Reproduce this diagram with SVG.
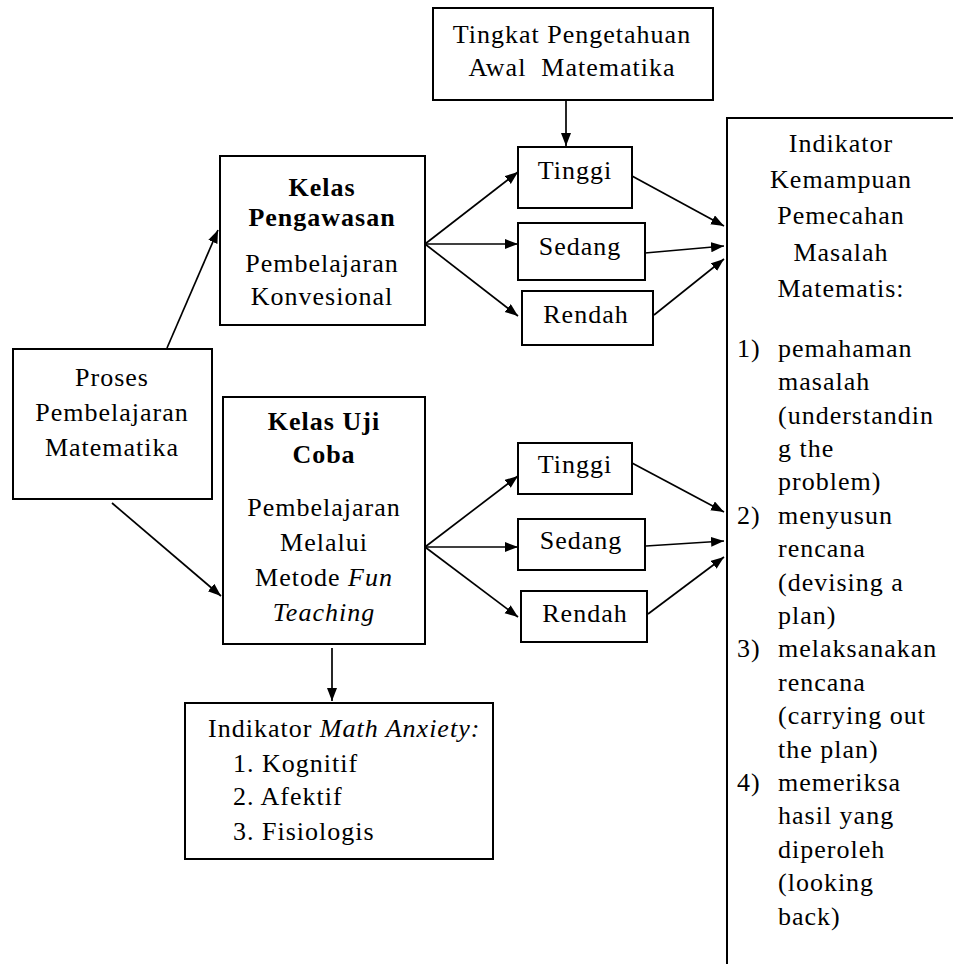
<svg xmlns="http://www.w3.org/2000/svg" width="953" height="964" viewBox="0 0 953 964">
<style>
.box{fill:#fff;stroke:#000;stroke-width:2}
.t{font-family:"Liberation Serif","Times New Roman","DejaVu Serif",serif;font-size:26px;fill:#000;letter-spacing:1px}
.c{text-anchor:middle}
.b{font-weight:bold}
.i{font-style:italic}
.ln{fill:none;stroke:#000;stroke-width:1.7;marker-end:url(#ah)}
</style>
<defs>
<marker id="ah" markerUnits="userSpaceOnUse" markerWidth="14" markerHeight="12" refX="13" refY="5" orient="auto">
<path d="M0,0 L13,5 L0,10 Z" fill="#000"/>
</marker>
</defs>
<rect width="953" height="964" fill="#fff"/>

<g id="connectors">
<line class="ln" x1="566" y1="100" x2="566" y2="146"/>
<line class="ln" x1="167" y1="348" x2="218" y2="230"/>
<line class="ln" x1="112" y1="503" x2="221" y2="596"/>
<line class="ln" x1="425" y1="244" x2="518" y2="172"/>
<line class="ln" x1="425" y1="244" x2="518" y2="244"/>
<line class="ln" x1="425" y1="244" x2="518" y2="316"/>
<line class="ln" x1="632" y1="176" x2="724" y2="226"/>
<line class="ln" x1="645" y1="253" x2="724" y2="246"/>
<line class="ln" x1="654" y1="315" x2="724" y2="259"/>
<line class="ln" x1="425" y1="547" x2="518" y2="476"/>
<line class="ln" x1="425" y1="547" x2="518" y2="547"/>
<line class="ln" x1="425" y1="547" x2="518" y2="617"/>
<line class="ln" x1="632" y1="463" x2="724" y2="512"/>
<line class="ln" x1="646" y1="546" x2="724" y2="541"/>
<line class="ln" x1="648" y1="614" x2="724" y2="557"/>
<line class="ln" x1="332" y1="648" x2="332" y2="701"/>
</g>

<g id="tingkat">
<rect class="box" x="433" y="8" width="280" height="92"/>
<text class="t c" x="572" y="43">Tingkat Pengetahuan</text>
<text class="t c" x="572" y="76" xml:space="preserve">Awal  Matematika</text>
</g>

<g id="proses">
<rect class="box" x="13" y="349" width="199" height="150"/>
<text class="t c" x="112" y="386">Proses</text>
<text class="t c" x="112" y="421">Pembelajaran</text>
<text class="t c" x="112" y="456">Matematika</text>
</g>

<g id="kelas-pengawasan">
<rect class="box" x="220" y="156" width="205" height="169"/>
<text class="t c b" x="322" y="196">Kelas</text>
<text class="t c b" x="322" y="226">Pengawasan</text>
<text class="t c" x="322" y="272">Pembelajaran</text>
<text class="t c" x="322" y="305">Konvesional</text>
</g>

<g id="kelas-uji">
<rect class="box" x="223" y="397" width="202" height="247"/>
<text class="t c b" x="324" y="430">Kelas Uji</text>
<text class="t c b" x="324" y="463">Coba</text>
<text class="t c" x="324" y="516">Pembelajaran</text>
<text class="t c" x="324" y="551">Melalui</text>
<text class="t c" x="324" y="586">Metode <tspan class="i">Fun</tspan></text>
<text class="t c i" x="324" y="621">Teaching</text>
</g>

<g id="tinggi-1">
<rect class="box" x="518" y="147" width="114" height="61"/>
<text class="t c" x="575" y="179">Tinggi</text>
</g>
<g id="sedang-1">
<rect class="box" x="518" y="223" width="127" height="57"/>
<text class="t c" x="580" y="255">Sedang</text>
</g>
<g id="rendah-1">
<rect class="box" x="522" y="291" width="131" height="54"/>
<text class="t c" x="586" y="323">Rendah</text>
</g>

<g id="tinggi-2">
<rect class="box" x="518" y="443" width="114" height="51"/>
<text class="t c" x="575" y="473">Tinggi</text>
</g>
<g id="sedang-2">
<rect class="box" x="518" y="519" width="127" height="51"/>
<text class="t c" x="581" y="549">Sedang</text>
</g>
<g id="rendah-2">
<rect class="box" x="521" y="591" width="126" height="51"/>
<text class="t c" x="585" y="622">Rendah</text>
</g>

<g id="math-anxiety">
<rect class="box" x="185" y="703" width="308" height="156"/>
<text class="t" x="208" y="737">Indikator <tspan class="i">Math Anxiety:</tspan></text>
<text class="t" x="233" y="772">1. Kognitif</text>
<text class="t" x="233" y="805">2. Afektif</text>
<text class="t" x="233" y="840">3. Fisiologis</text>
</g>

<g id="indikator-kemampuan">
<rect class="box" x="727" y="118" width="260" height="870"/>
<text class="t c" x="841" y="152">Indikator</text>
<text class="t c" x="841" y="188">Kemampuan</text>
<text class="t c" x="841" y="224">Pemecahan</text>
<text class="t c" x="841" y="261">Masalah</text>
<text class="t c" x="841" y="297">Matematis:</text>
<text class="t" x="737" y="357">1)</text>
<text class="t" x="778" y="357">pemahaman</text>
<text class="t" x="778" y="390">masalah</text>
<text class="t" x="778" y="424">(understandin</text>
<text class="t" x="778" y="457">g the</text>
<text class="t" x="778" y="490">problem)</text>
<text class="t" x="737" y="524">2)</text>
<text class="t" x="778" y="524">menyusun</text>
<text class="t" x="778" y="557">rencana</text>
<text class="t" x="778" y="591">(devising a</text>
<text class="t" x="778" y="624">plan)</text>
<text class="t" x="737" y="657">3)</text>
<text class="t" x="778" y="657">melaksanakan</text>
<text class="t" x="778" y="691">rencana</text>
<text class="t" x="778" y="724">(carrying out</text>
<text class="t" x="778" y="758">the plan)</text>
<text class="t" x="737" y="791">4)</text>
<text class="t" x="778" y="791">memeriksa</text>
<text class="t" x="778" y="824">hasil yang</text>
<text class="t" x="778" y="858">diperoleh</text>
<text class="t" x="778" y="891">(looking</text>
<text class="t" x="778" y="925">back)</text>
</g>
</svg>
